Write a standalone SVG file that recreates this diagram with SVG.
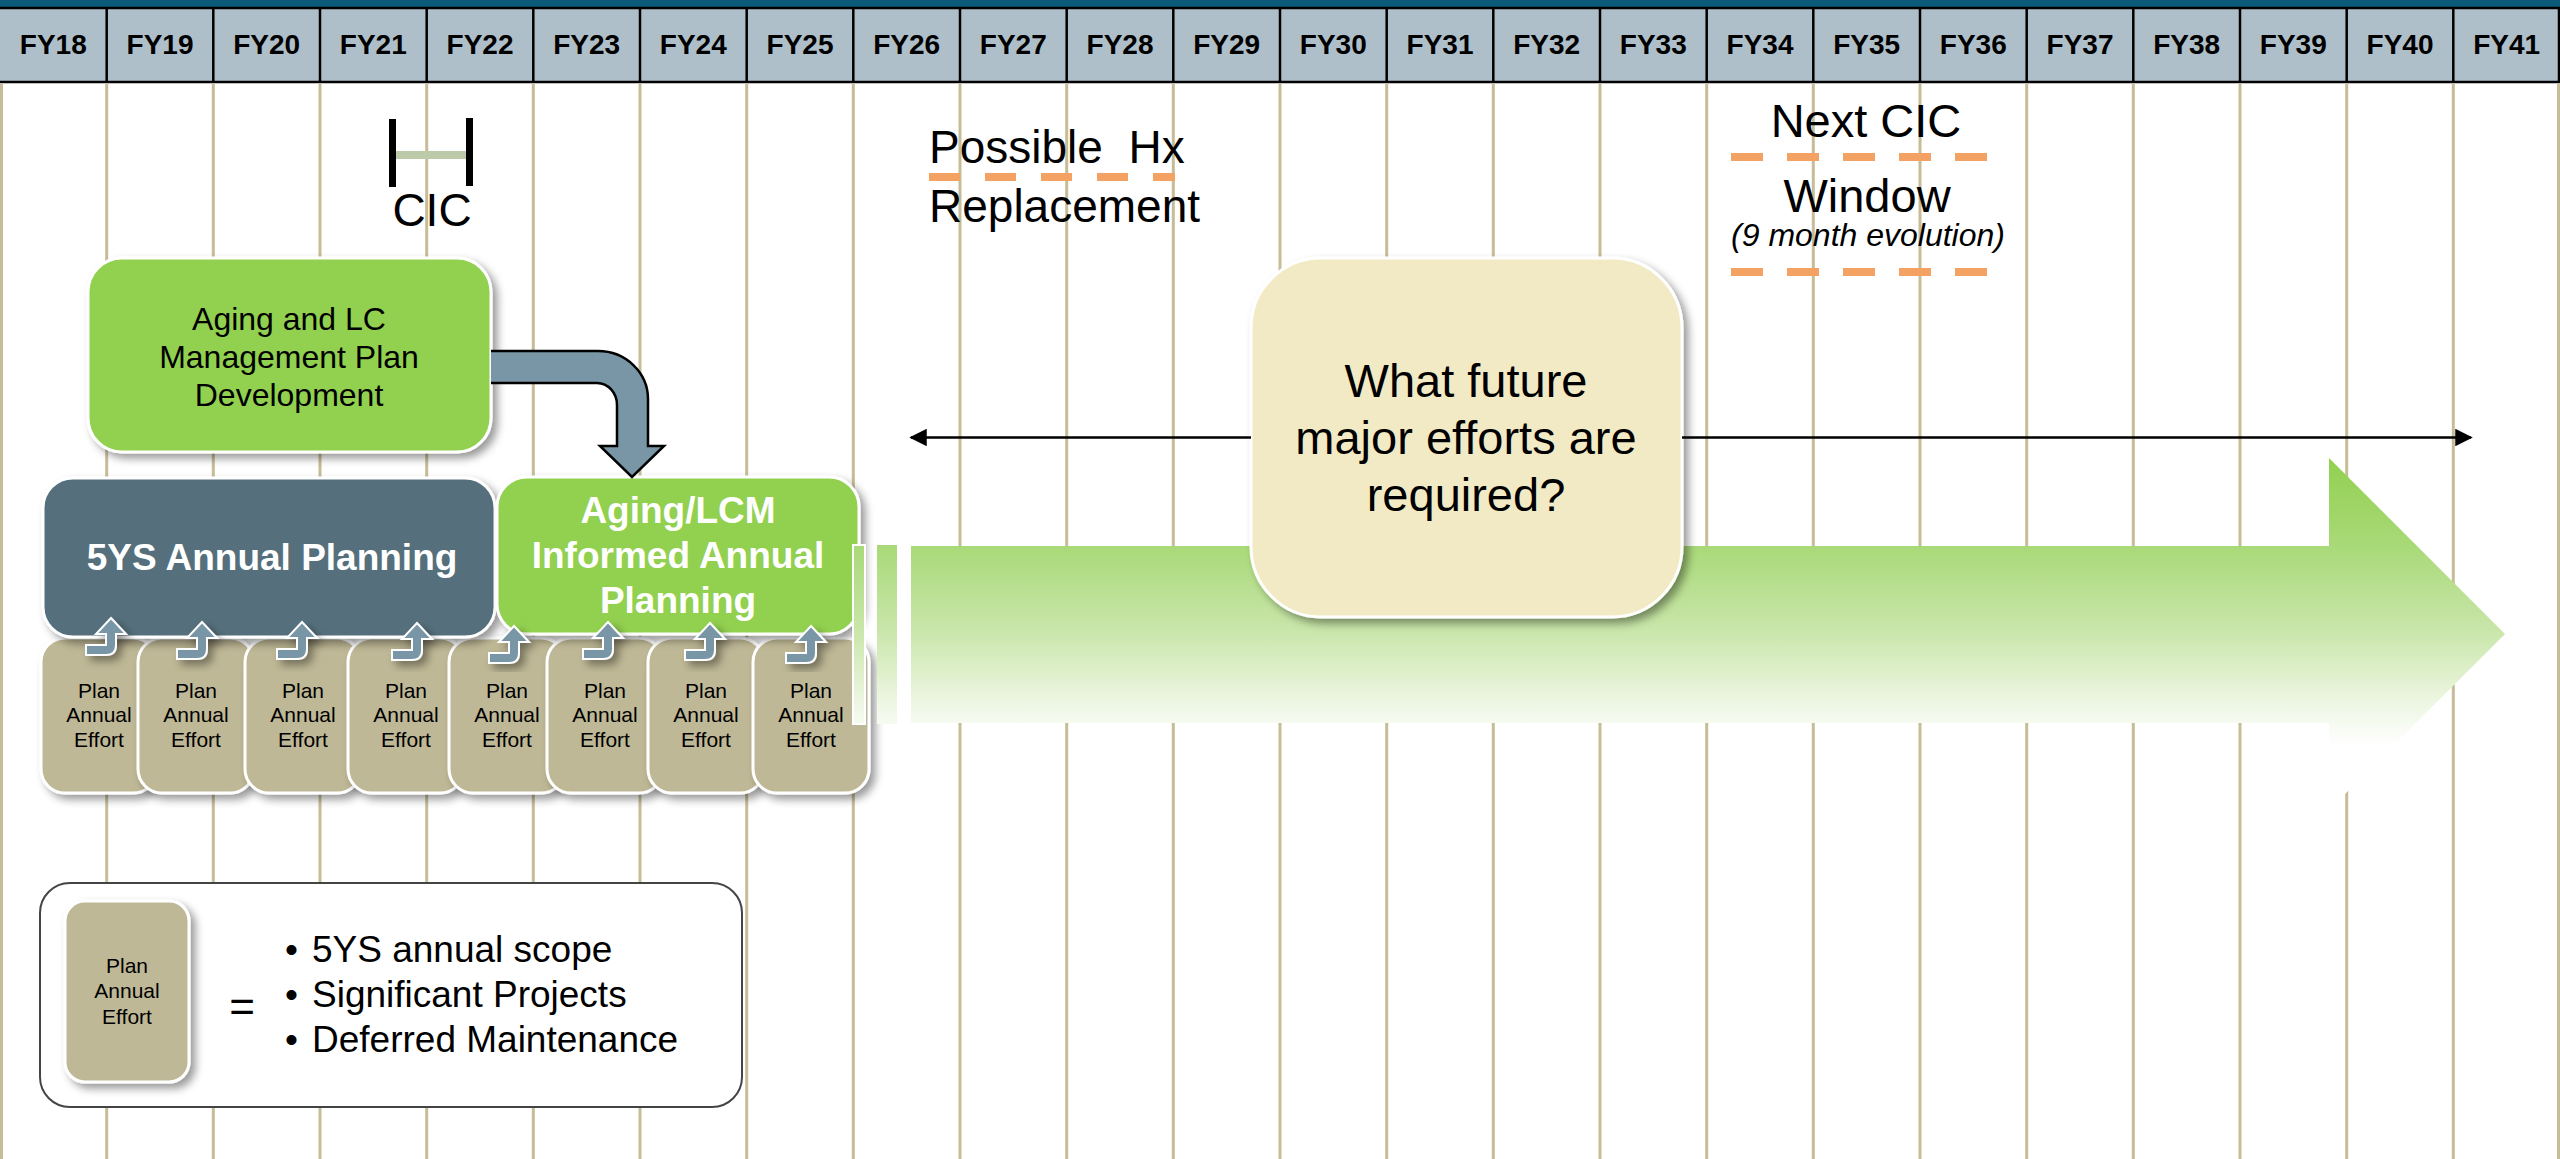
<svg xmlns="http://www.w3.org/2000/svg" width="2560" height="1159" viewBox="0 0 2560 1159">
  <defs>
    <style>
      text { font-family: "Liberation Sans", Arial, sans-serif; fill: #000; }
      .fy { font-size: 28px; font-weight: bold; text-anchor: middle; }
      .big { font-size: 46px; }
      .q { font-size: 47px; text-anchor: middle; }
      .mid { text-anchor: middle; }
      .node-green { fill: #92d050; stroke: #fff; stroke-width: 3; }
      .node-slate { fill: #546f7c; stroke: #fff; stroke-width: 3; }
      .node-tan { fill: #bfb896; stroke: #fff; stroke-width: 3; }
      .node-cream { fill: #f2eac5; stroke: #fff; stroke-width: 3; }
      .white-bold { fill: #fff; font-weight: bold; font-size: 37px; text-anchor: middle; }
      .effort { font-size: 21px; text-anchor: middle; }
      .dash { stroke: #f4a164; stroke-width: 8; fill: none; }
      .grid { stroke: #c6bd98; stroke-width: 3; fill: none; }
      .hdr-line { stroke: #000; stroke-width: 2.5; fill: none; }
      .flow { fill: #7896a5; stroke: #fff; stroke-width: 2; }
    </style>
    <filter id="shadow" x="-20%" y="-20%" width="140%" height="140%">
      <feDropShadow dx="5" dy="5" stdDeviation="4" flood-color="#000" flood-opacity="0.4"/>
    </filter>
    <linearGradient id="fade" gradientUnits="userSpaceOnUse" x1="0" y1="458" x2="0" y2="745">
      <stop offset="0" stop-color="#92d050"/>
      <stop offset="0.3" stop-color="#a8d977"/>
      <stop offset="0.6" stop-color="#c9e6aa"/>
      <stop offset="0.85" stop-color="#edf6e2"/>
      <stop offset="1" stop-color="#ffffff"/>
    </linearGradient>
    <marker id="head" viewBox="0 0 10 10" refX="9" refY="5" markerWidth="7" markerHeight="7" markerUnits="strokeWidth" orient="auto-start-reverse">
      <path d="M0,0 L10,5 L0,10 Z" fill="#000"/>
    </marker>
    <!-- small bent up-arrow, tip at origin -->
    <path id="upArrow" class="flow" d="M0,0 L15,16 L5,16 L5,27 Q5,37 -5,37 L-25,37 L-25,27 L-5,27 L-5,16 L-15,16 Z"/>
  </defs>

  <rect x="0" y="0" width="2560" height="1159" fill="#fff"/>

  <!-- year column grid -->
  <path class="grid" d="M1.5,84V1159 M106.7,84V1159 M213.3,84V1159 M320,84V1159 M426.7,84V1159 M533.3,84V1159 M640,84V1159 M746.7,84V1159 M853.3,84V1159 M960,84V1159 M1066.7,84V1159 M1173.3,84V1159 M1280,84V1159 M1386.7,84V1159 M1493.3,84V1159 M1600,84V1159 M1706.7,84V1159 M1813.3,84V1159 M1920,84V1159 M2026.7,84V1159 M2133.3,84V1159 M2240,84V1159 M2346.7,84V1159 M2453.3,84V1159 M2558.5,84V1159"/>

  <!-- fiscal year header -->
  <g id="header">
    <rect x="0" y="0" width="2560" height="7" fill="#0b5a79"/>
    <rect x="0" y="7" width="2560" height="75" fill="#aebfc9"/>
    <path class="hdr-line" d="M0,8H2560 M0,82H2560 M106.7,7V83 M213.3,7V83 M320,7V83 M426.7,7V83 M533.3,7V83 M640,7V83 M746.7,7V83 M853.3,7V83 M960,7V83 M1066.7,7V83 M1173.3,7V83 M1280,7V83 M1386.7,7V83 M1493.3,7V83 M1600,7V83 M1706.7,7V83 M1813.3,7V83 M1920,7V83 M2026.7,7V83 M2133.3,7V83 M2240,7V83 M2346.7,7V83 M2453.3,7V83 M2559,7V83"/>
    <text class="fy" x="53.3" y="54">FY18</text>
    <text class="fy" x="160" y="54">FY19</text>
    <text class="fy" x="266.7" y="54">FY20</text>
    <text class="fy" x="373.3" y="54">FY21</text>
    <text class="fy" x="480" y="54">FY22</text>
    <text class="fy" x="586.7" y="54">FY23</text>
    <text class="fy" x="693.3" y="54">FY24</text>
    <text class="fy" x="800" y="54">FY25</text>
    <text class="fy" x="906.7" y="54">FY26</text>
    <text class="fy" x="1013.3" y="54">FY27</text>
    <text class="fy" x="1120" y="54">FY28</text>
    <text class="fy" x="1226.7" y="54">FY29</text>
    <text class="fy" x="1333.3" y="54">FY30</text>
    <text class="fy" x="1440" y="54">FY31</text>
    <text class="fy" x="1546.7" y="54">FY32</text>
    <text class="fy" x="1653.3" y="54">FY33</text>
    <text class="fy" x="1760" y="54">FY34</text>
    <text class="fy" x="1866.7" y="54">FY35</text>
    <text class="fy" x="1973.3" y="54">FY36</text>
    <text class="fy" x="2080" y="54">FY37</text>
    <text class="fy" x="2186.7" y="54">FY38</text>
    <text class="fy" x="2293.3" y="54">FY39</text>
    <text class="fy" x="2400" y="54">FY40</text>
    <text class="fy" x="2506.7" y="54">FY41</text>
  </g>

  <!-- CIC milestone bracket -->
  <g id="cic">
    <rect x="389" y="119" width="7" height="68" fill="#000"/>
    <rect x="466" y="118" width="7" height="68" fill="#000"/>
    <rect x="396" y="151" width="70" height="8" fill="#bccaa9"/>
    <text class="big mid" x="432" y="226">CIC</text>
  </g>

  <!-- possible heat exchanger replacement -->
  <g id="hx-replacement">
    <text class="big" x="929" y="163" xml:space="preserve">Possible  Hx</text>
    <line class="dash" x1="929" y1="177" x2="1175" y2="177" stroke-dasharray="31 25"/>
    <text class="big" x="929" y="222">Replacement</text>
  </g>

  <!-- next CIC window -->
  <g id="next-cic">
    <text class="mid" x="1866" y="137" font-size="47">Next CIC</text>
    <line class="dash" x1="1731" y1="157" x2="1988" y2="157" stroke-dasharray="32 24"/>
    <text class="mid" x="1867" y="212" font-size="47">Window</text>
    <text class="mid" x="1868" y="246" font-size="32" font-style="italic">(9 month evolution)</text>
    <line class="dash" x1="1731" y1="272" x2="1988" y2="272" stroke-dasharray="32 24"/>
  </g>

  <!-- aging and life-cycle management plan -->
  <g id="aging-plan">
    <rect class="node-green" x="88" y="258" width="403" height="194" rx="34" filter="url(#shadow)"/>
    <text class="mid" x="289" y="330" font-size="32">Aging and LC</text>
    <text class="mid" x="289" y="368" font-size="32">Management Plan</text>
    <text class="mid" x="289" y="406" font-size="32">Development</text>
  </g>

  <!-- yearly plan efforts -->
  <g id="efforts">
    <g id="effort-1">
      <rect class="node-tan" x="41" y="638" width="116" height="155" rx="24" filter="url(#shadow)"/>
      <text class="effort" x="99" y="698">Plan</text><text class="effort" x="99" y="722">Annual</text><text class="effort" x="99" y="747">Effort</text>
    </g>
    <g id="effort-2">
      <rect class="node-tan" x="138" y="638" width="116" height="155" rx="24" filter="url(#shadow)"/>
      <text class="effort" x="196" y="698">Plan</text><text class="effort" x="196" y="722">Annual</text><text class="effort" x="196" y="747">Effort</text>
    </g>
    <g id="effort-3">
      <rect class="node-tan" x="245" y="638" width="116" height="155" rx="24" filter="url(#shadow)"/>
      <text class="effort" x="303" y="698">Plan</text><text class="effort" x="303" y="722">Annual</text><text class="effort" x="303" y="747">Effort</text>
    </g>
    <g id="effort-4">
      <rect class="node-tan" x="348" y="638" width="116" height="155" rx="24" filter="url(#shadow)"/>
      <text class="effort" x="406" y="698">Plan</text><text class="effort" x="406" y="722">Annual</text><text class="effort" x="406" y="747">Effort</text>
    </g>
    <g id="effort-5">
      <rect class="node-tan" x="449" y="638" width="116" height="155" rx="24" filter="url(#shadow)"/>
      <text class="effort" x="507" y="698">Plan</text><text class="effort" x="507" y="722">Annual</text><text class="effort" x="507" y="747">Effort</text>
    </g>
    <g id="effort-6">
      <rect class="node-tan" x="547" y="638" width="116" height="155" rx="24" filter="url(#shadow)"/>
      <text class="effort" x="605" y="698">Plan</text><text class="effort" x="605" y="722">Annual</text><text class="effort" x="605" y="747">Effort</text>
    </g>
    <g id="effort-7">
      <rect class="node-tan" x="648" y="638" width="116" height="155" rx="24" filter="url(#shadow)"/>
      <text class="effort" x="706" y="698">Plan</text><text class="effort" x="706" y="722">Annual</text><text class="effort" x="706" y="747">Effort</text>
    </g>
    <g id="effort-8">
      <rect class="node-tan" x="753" y="638" width="116" height="155" rx="24" filter="url(#shadow)"/>
      <text class="effort" x="811" y="698">Plan</text><text class="effort" x="811" y="722">Annual</text><text class="effort" x="811" y="747">Effort</text>
    </g>
  </g>

  <!-- annual planning blocks -->
  <g id="five-ys-planning">
    <rect class="node-slate" x="43" y="478" width="452" height="159" rx="30" filter="url(#shadow)"/>
    <text class="white-bold" x="272" y="570">5YS Annual Planning</text>
  </g>
  <g id="lcm-planning">
    <rect class="node-green" x="497" y="477" width="362" height="157" rx="30" filter="url(#shadow)"/>
    <text class="white-bold" x="678" y="523">Aging/LCM</text>
    <text class="white-bold" x="678" y="568">Informed Annual</text>
    <text class="white-bold" x="678" y="613">Planning</text>
  </g>

  <!-- long-range timeline arrow -->
  <g id="timeline-arrow">
    <rect x="853" y="545" width="12" height="179" fill="url(#fade)" stroke="#fff" stroke-width="2"/>
    <rect x="877" y="545" width="20" height="179" fill="url(#fade)"/>
    <path d="M911,546 L2329,546 L2329,458 L2505,634 L2329,810 L2329,723 L911,723 Z" fill="url(#fade)"/>
  </g>

  <!-- future efforts question -->
  <g id="future-efforts">
    <rect class="node-cream" x="1251" y="258" width="431" height="359" rx="70" filter="url(#shadow)"/>
    <text class="q" x="1466" y="397">What future</text>
    <text class="q" x="1466" y="454">major efforts are</text>
    <text class="q" x="1466" y="511">required?</text>
  </g>

  <!-- legend -->
  <g id="legend">
    <rect x="40" y="883" width="702" height="224" rx="30" fill="#fff" stroke="#444" stroke-width="2"/>
    <rect class="node-tan" x="65" y="901" width="124" height="181" rx="20" filter="url(#shadow)"/>
    <text class="effort" x="127" y="973">Plan</text>
    <text class="effort" x="127" y="998">Annual</text>
    <text class="effort" x="127" y="1024">Effort</text>
    <text class="mid" x="242" y="1022" font-size="44">=</text>
    <text x="285" y="962" font-size="37">•</text><text x="312" y="962" font-size="37">5YS annual scope</text>
    <text x="285" y="1007" font-size="37">•</text><text x="312" y="1007" font-size="37">Significant Projects</text>
    <text x="285" y="1052" font-size="37">•</text><text x="312" y="1052" font-size="37">Deferred Maintenance</text>
  </g>

  <!-- connectors -->
  <g id="connectors">
    <path d="M491,351 L598,351 A50,48 0 0 1 648,399 L648,446 L664,446 L632,477 L600,446 L617,446 L617,405 A20,22 0 0 0 597,383 L491,383" fill="#7896a5" stroke="#000" stroke-width="2.5"/>
    <line x1="1251" y1="437.5" x2="911" y2="437.5" stroke="#000" stroke-width="2.5" marker-end="url(#head)"/>
    <line x1="1682" y1="437.5" x2="2471" y2="437.5" stroke="#000" stroke-width="2.5" marker-end="url(#head)"/>
    <g filter="url(#shadow)">
      <use href="#upArrow" transform="translate(111,618)"/>
      <use href="#upArrow" transform="translate(202,622)"/>
      <use href="#upArrow" transform="translate(302,622)"/>
      <use href="#upArrow" transform="translate(417,623)"/>
      <use href="#upArrow" transform="translate(514,626)"/>
      <use href="#upArrow" transform="translate(608,622)"/>
      <use href="#upArrow" transform="translate(710,623)"/>
      <use href="#upArrow" transform="translate(811,626)"/>
    </g>
  </g>
</svg>
